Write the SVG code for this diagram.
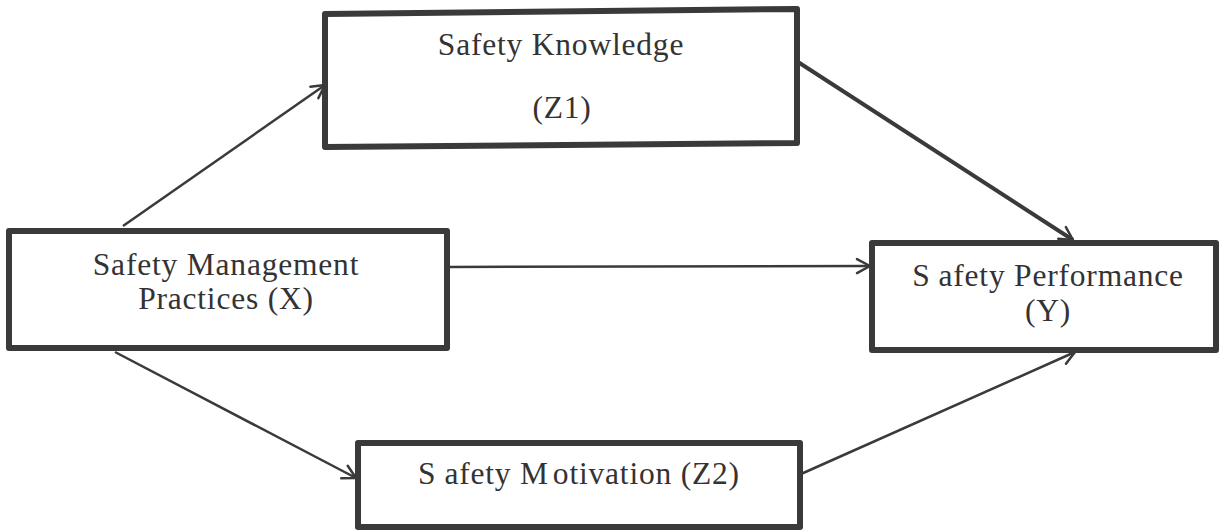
<svg xmlns="http://www.w3.org/2000/svg" width="1221" height="530" viewBox="0 0 1221 530">
<style>
.box{fill:#fff;stroke:#3a3a3a;stroke-width:6;stroke-linejoin:round}
.lbl{font-family:'Liberation Serif','Times New Roman',serif;font-size:31.5px;fill:#333;letter-spacing:0.8px;text-anchor:middle}
.conn{stroke:#3a3a3a;stroke-width:2.5;fill:none;marker-end:url(#arr)}
</style>
<defs>
<marker id="arr" markerUnits="userSpaceOnUse" markerWidth="18" markerHeight="18" refX="15" refY="8" orient="auto" viewBox="0 0 18 16">
<path d="M2,1 L15,8 L2,15" fill="none" stroke="#3a3a3a" stroke-width="2.5" stroke-linecap="round" stroke-linejoin="round"/>
</marker>
</defs>
<rect width="1221" height="530" fill="#fff"/>
<g id="connectors">
<line class="conn" x1="123" y1="226" x2="325" y2="85"/>
<line class="conn" x1="798" y1="62" x2="1073" y2="240" style="stroke-width:4"/>
<line class="conn" x1="448" y1="267" x2="870" y2="266"/>
<line class="conn" x1="115" y1="352" x2="356" y2="478"/>
<line class="conn" x1="801" y1="474" x2="1075" y2="352"/>
</g>
<g id="z1">
<path class="box" d="M325,14 L797,9 L797,143 L325,147 Z"/>
<text class="lbl" x="561" y="55">Safety Knowledge</text>
<text class="lbl" x="562" y="118">(Z1)</text>
</g>
<g id="x">
<rect class="box" x="9" y="231" width="438" height="117"/>
<text class="lbl" x="226" y="275">Safety Management</text>
<text class="lbl" x="226" y="309">Practices (X)</text>
</g>
<g id="y">
<rect class="box" x="872" y="243" width="344" height="107"/>
<text class="lbl" x="1048" y="286">S<tspan dx="8">afety Performance</tspan></text>
<text class="lbl" x="1048" y="321">(Y)</text>
</g>
<g id="z2">
<rect class="box" x="358" y="443" width="442" height="84"/>
<text class="lbl" x="579" y="484">S<tspan dx="8">afety M</tspan><tspan dx="4">otivation (Z2)</tspan></text>
</g>
</svg>
